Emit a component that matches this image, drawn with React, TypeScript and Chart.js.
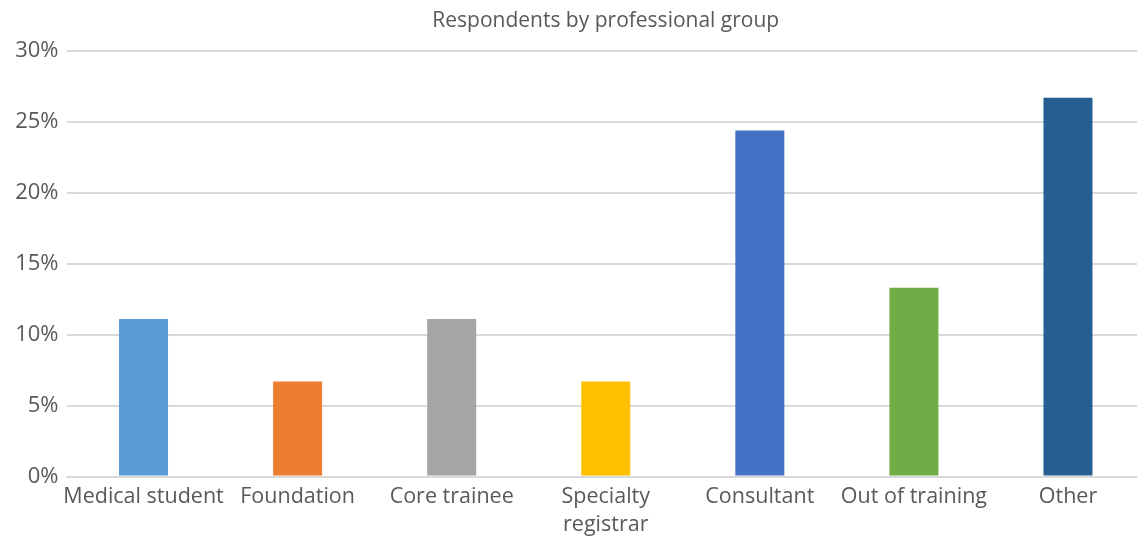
import React, { useEffect, useRef } from "react";
import { Chart, registerables } from "chart.js";

Chart.register(...registerables);

const categories: (string | string[])[] = [
  "Medical student",
  "Foundation",
  "Core trainee",
  ["Specialty", "registrar"],
  "Consultant",
  "Out of training",
  "Other",
];
const values: number[] = [11.1, 6.7, 11.1, 6.7, 24.4, 13.3, 26.7];
const colors: string[] = ["#5B9BD5", "#ED7D31", "#A5A5A5", "#FFC000", "#4472C4", "#70AD47", "#255E91"];
const titleText = "Respondents by professional group";
const yMax = 30;
const yStep = 5;

const FONT = "'Open Sans', Lato, sans-serif";
const TEXT = "#595959";
const GRID = "#D9D9D9";

const areaTitle = {
  id: "areaTitle",
  afterDraw(chart: any) {
    const { ctx, chartArea } = chart;
    ctx.save();
    ctx.fillStyle = TEXT;
    ctx.font = "normal 21px " + FONT;
    ctx.textAlign = "center";
    ctx.textBaseline = "middle";
    ctx.fillText(titleText, (chartArea.left + chartArea.right) / 2, 21);
    ctx.restore();
  },
};

export default function App() {
  const ref = useRef<HTMLCanvasElement | null>(null);
  useEffect(() => {
    if (!ref.current) return;
    const chart = new Chart(ref.current, {
      type: "bar",
      data: {
        labels: categories,
        datasets: [
          {
            data: values,
            backgroundColor: colors,
            borderWidth: 0,
            categoryPercentage: 1,
            barPercentage: 0.318,
          },
        ],
      },
      options: {
        responsive: false,
        animation: false,
        layout: { padding: { left: 0, right: 0, top: 51, bottom: 0 } },
        plugins: {
          legend: { display: false },
          tooltip: { enabled: false },
          title: { display: false },
        },
        scales: {
          x: {
            grid: { display: false, drawTicks: false },
            border: { display: true, color: GRID, width: 2 },
            ticks: {
              color: TEXT,
              font: { family: FONT, size: 21.5, lineHeight: 1.3 },
              padding: 6,
              maxRotation: 0,
              autoSkip: false,
            },
            afterFit: (s: any) => {
              s.height = 62.5;
            },
          },
          y: {
            min: 0,
            max: yMax,
            grid: { color: GRID, lineWidth: 2, drawTicks: false },
            border: { display: false },
            ticks: {
              stepSize: yStep,
              color: TEXT,
              font: { family: FONT, size: 22 },
              padding: 8,
              callback: (v: any) => v + "%",
            },
            afterFit: (s: any) => {
              s.width = 66.5;
              s.paddingTop = 0;
            },
          },
        },
      },
      plugins: [areaTitle],
    });
    return () => chart.destroy();
  }, []);
  return (
    <div style={{ position: "fixed", left: 0, top: 0, width: 1137, height: 539, overflow: "hidden", background: "#fff" }}>
      <canvas ref={ref} width={1145} height={539} style={{ display: "block" }} />
    </div>
  );
}
